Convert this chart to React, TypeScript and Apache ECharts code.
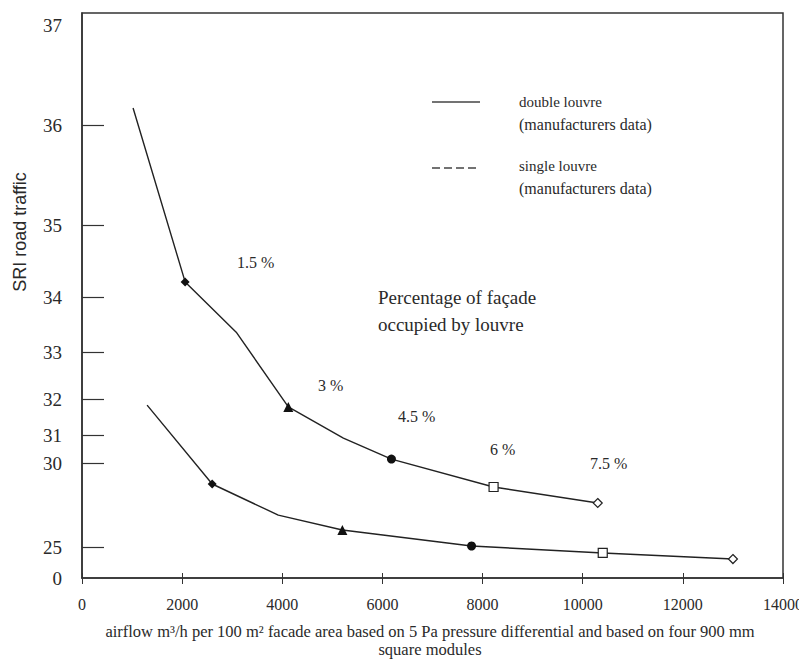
import React, { useEffect, useRef } from "react";
import * as echarts from "echarts";

// x values (airflow m3/h per 100 m2)
const upperX = [1020, 2060, 3080, 4120, 5220, 6180, 8220, 10300];
const upperY = [36.17, 34.21, 33.36, 31.78, 30.89, 30.14, 28.57, 27.62];
const lowerX = [1300, 2600, 3920, 5200, 7780, 10400, 13000];
const lowerY = [31.83, 28.75, 26.9, 26.01, 25.06, 20.2, 15.3];

// marker per point: "" none, "f:" filled, "o:" open
const upperMarks = ["", "f:diamond", "", "f:triangle", "", "f:circle", "o:rect", "o:diamond"];
const lowerMarks = ["", "f:diamond", "", "f:triangle", "f:circle", "o:rect", "o:diamond"];

// the (non-linear) SRI axis: tick values and their heights on the axis
const yTickValues = [0, 25, 30, 31, 32, 33, 34, 35, 36, 37];
const yTickPos = [0, 31, 115, 143, 179, 226, 281, 353, 453, 553];
const yAxisMax = 565;

const xTicks = [0, 2000, 4000, 6000, 8000, 10000, 12000, 14000];

const pctLabels = ["1.5 %", "3 %", "4.5 %", "6 %", "7.5 %"];

function toPos(v: number): number {
  for (let i = 0; i < yTickValues.length - 1; i++) {
    const a = yTickValues[i], b = yTickValues[i + 1];
    if (v >= a && v <= b) {
      return yTickPos[i] + ((v - a) / (b - a)) * (yTickPos[i + 1] - yTickPos[i]);
    }
  }
  return v > 37 ? yTickPos[yTickPos.length - 1] : 0;
}

function buildData(xs: number[], ys: number[], marks: string[]) {
  return xs.map((x, i) => {
    const m = marks[i];
    if (!m) return { value: [x, toPos(ys[i])], symbol: "none" };
    const filled = m.startsWith("f:");
    const shape = m.slice(2);
    let size = 9;
    if (shape === "triangle") size = 10;
    return {
      value: [x, toPos(ys[i])],
      symbol: shape,
      symbolSize: size,
      itemStyle: filled
        ? { color: "#111", borderColor: "#111", borderWidth: 0 }
        : { color: "#fff", borderColor: "#222", borderWidth: 1.2 },
    };
  });
}

export default function App() {
  const ref = useRef<HTMLDivElement>(null);
  useEffect(() => {
    if (!ref.current) return;
    const chart = echarts.init(ref.current, null, { renderer: "svg" });
    const serif = "Liberation Serif";
    const txt = "#2a2a2a";
    const pctPos = [
      [237, 262],
      [318, 385],
      [398, 416],
      [490, 449],
      [590, 463],
    ];
    const serifText = (text: string, x: number, y: number, size: number, align = "left") => ({
      type: "text",
      x,
      y,
      style: {
        text,
        fill: txt,
        fontFamily: serif,
        fontSize: size,
        textAlign: align,
        textVerticalAlign: "middle",
      },
    });
    chart.setOption({
      animation: false,
      backgroundColor: "#fff",
      grid: { left: 82, right: 24, top: 13, bottom: 82, show: true, borderColor: "#333", borderWidth: 1.5, containLabel: false },
      xAxis: [
        {
          type: "value",
          min: 0,
          max: 14000,
          interval: 2000,
          axisLine: { show: true, lineStyle: { color: "#333", width: 1.5 } },
          axisTick: { show: true, inside: false, length: 6, lineStyle: { color: "#333" } },
          splitLine: { show: false },
          axisLabel: {
            color: txt,
            fontFamily: serif,
            fontSize: 16,
            margin: 18,
            customValues: xTicks,
            formatter: (v: number) => String(v),
          },
        },
        {
          type: "value",
          position: "bottom",
          offset: 0,
          min: 0,
          max: 14000,
          interval: 2000,
          axisLine: { show: false },
          axisTick: { show: true, inside: true, length: 5, lineStyle: { color: "#333" } },
          splitLine: { show: false },
          axisLabel: { show: false },
        },
      ],
      yAxis: {
        type: "value",
        min: 0,
        max: yAxisMax,
        axisLine: { show: true, lineStyle: { color: "#333", width: 1.5 } },
        axisTick: {
          show: true,
          inside: true,
          length: 22,
          lineStyle: { color: "#333", width: 1.2 },
          customValues: yTickPos.slice(1, yTickPos.length - 1),
        },
        splitLine: { show: false },
        axisLabel: {
          color: txt,
          fontFamily: serif,
          fontSize: 19,
          margin: 20,
          customValues: yTickPos,
          formatter: (v: number) => {
            const idx = yTickPos.findIndex((p) => Math.abs(p - v) < 0.5);
            return idx >= 0 ? String(yTickValues[idx]) : "";
          },
        },
      },
      series: [
        {
          name: "upper",
          type: "line",
          data: buildData(upperX, upperY, upperMarks),
          lineStyle: { color: "#222", width: 1.4 },
          itemStyle: { color: "#111" },
          showSymbol: true,
        },
        {
          name: "lower",
          type: "line",
          data: buildData(lowerX, lowerY, lowerMarks),
          lineStyle: { color: "#222", width: 1.4 },
          itemStyle: { color: "#111" },
          showSymbol: true,
        },
      ],
      graphic: [
        {
          type: "text",
          x: 20,
          y: 232,
          rotation: Math.PI / 2,
          style: {
            text: "SRI road traffic",
            fill: txt,
            fontFamily: "Liberation Sans",
            fontSize: 18,
            textAlign: "center",
            textVerticalAlign: "middle",
          },
        },
        serifText(
          "airflow m\u00B3/h per 100 m\u00B2 facade area based on 5 Pa pressure differential and based on four 900 mm",
          430,
          631,
          16.5,
          "center"
        ),
        serifText("square modules", 430, 649, 16.5, "center"),
        // legend
        { type: "line", shape: { x1: 432, y1: 102, x2: 480, y2: 102 }, style: { stroke: "#444", lineWidth: 1.5 } },
        { type: "line", shape: { x1: 432, y1: 168, x2: 480, y2: 168 }, style: { stroke: "#444", lineWidth: 1.5, lineDash: [8, 4] } },
        serifText("double louvre", 519, 102, 15),
        serifText("(manufacturers data)", 519, 124, 16),
        serifText("single louvre", 519, 166, 15),
        serifText("(manufacturers data)", 519, 188, 16),
        serifText("Percentage of fa\u00E7ade", 378, 297, 19),
        serifText("occupied by louvre", 378, 324, 19),
        ...pctLabels.map((t, i) => serifText(t, pctPos[i][0], pctPos[i][1], 16)),
      ],
    });
    return () => chart.dispose();
  }, []);
  return <div ref={ref} style={{ width: 807, height: 660, marginLeft: -8, marginTop: -8 }} />;
}
